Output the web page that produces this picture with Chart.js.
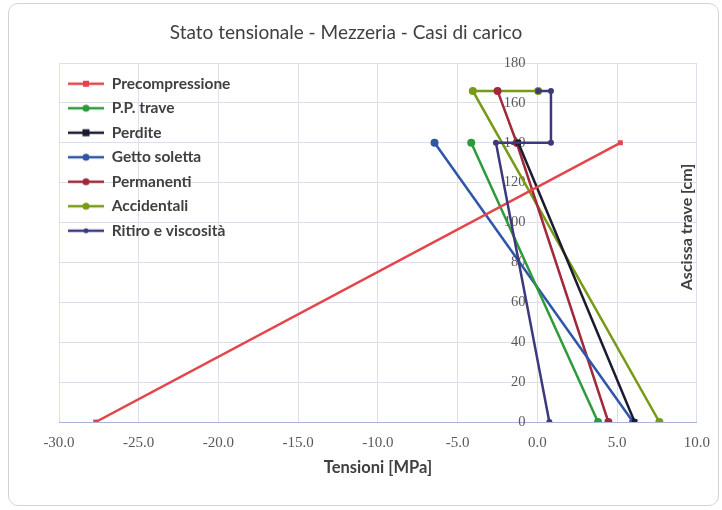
<!DOCTYPE html>
<html>
<head>
<meta charset="utf-8">
<script src="https://cdn.jsdelivr.net/npm/chart.js@4/dist/chart.umd.min.js"></script>
<style>
  html, body { margin: 0; padding: 0; background: #ffffff; }
  #frame { position: absolute; left: 8px; top: 3px; width: 709px; height: 501px; border: 1px solid #d4d4d4; border-radius: 10px; }
  #wrap { position: absolute; left: 0; top: 0; width: 722px; height: 510px; }
</style>
</head>
<body>
<div id="frame"></div>
<div id="wrap"><canvas id="c" width="722" height="510"></canvas></div>
<script>
// ---- Data ----
const seriesNames = ["Precompressione", "P.P. trave", "Perdite", "Getto soletta", "Permanenti", "Accidentali", "Ritiro e viscosità"];

const precompX = [-27.7, 5.2];
const precompY = [0, 140];
const ppTraveX = [3.8, -4.15];
const ppTraveY = [0, 140];
const perditeX = [6.1, -1.2];
const perditeY = [0, 140];
const gettoX = [6.0, -6.45];
const gettoY = [0, 140];
const permanentiX = [4.45, -1.3, -2.5];
const permanentiY = [0, 140, 166];
const accidentaliX = [7.65, -4.05, 0.05];
const accidentaliY = [0, 166, 166];
const ritiroX = [0.75, -2.6, 0.85, 0.85, 0.05];
const ritiroY = [0, 140, 140, 166, 166];

const xTicks = [-30, -25, -20, -15, -10, -5, 0, 5, 10];
const yTicks = [0, 20, 40, 60, 80, 100, 120, 140, 160, 180];

// ---- Styles ----
const colors = ["#e3454a", "#2f9a3c", "#1b1b2f", "#2f55a8", "#a02a3a", "#779a17", "#3c3a7c"];
const markers = ["rect", "circle", "rect", "circle", "circle", "circle", "circle"];
const radii = [3.5, 4, 4, 4, 4, 4, 3];

const xs = [precompX, ppTraveX, perditeX, gettoX, permanentiX, accidentaliX, ritiroX];
const ys = [precompY, ppTraveY, perditeY, gettoY, permanentiY, accidentaliY, ritiroY];

function pts(xa, ya) { return xa.map((v, i) => ({ x: v, y: ya[i] })); }

function legendIcon(color, style, r) {
  const cv = document.createElement('canvas');
  cv.width = 36; cv.height = 12;
  const g = cv.getContext('2d');
  g.strokeStyle = color; g.lineWidth = 2.5;
  g.beginPath(); g.moveTo(0, 6); g.lineTo(36, 6); g.stroke();
  g.fillStyle = color;
  if (style === 'rect') { g.fillRect(18 - r, 6 - r, 2 * r, 2 * r); }
  else { g.beginPath(); g.arc(18, 6, r, 0, Math.PI * 2); g.fill(); }
  return cv;
}
const icons = colors.map((c, i) => legendIcon(c, markers[i], radii[i] - 0.5));

const datasets = seriesNames.map((name, i) => ({
  label: name,
  data: pts(xs[i], ys[i]),
  showLine: true,
  borderColor: colors[i],
  backgroundColor: colors[i],
  borderWidth: 2.5,
  pointStyle: markers[i],
  pointRadius: radii[i],
  pointHoverRadius: radii[i],
  pointBorderWidth: 0,
  order: i === 6 ? -1 : 0
}));

const textPlugin = {
  id: 'texts',
  beforeDraw(chart) {
    const lg = chart.legend;
    if (lg) {
      const h = lg.bottom - lg.top;
      lg.top = chart.chartArea.top + 4;
      lg.bottom = lg.top + h;
    }
  },
  afterDraw(chart) {
    const ctx = chart.ctx;
    ctx.save();
    ctx.fillStyle = '#404040';
    ctx.font = '19px Lato';
    ctx.textAlign = 'center';
    ctx.textBaseline = 'middle';
    ctx.fillText('Stato tensionale - Mezzeria - Casi di carico', 346, 33);
    ctx.translate(687, 227);
    ctx.rotate(-Math.PI / 2);
    ctx.font = 'bold 16px Lato';
    ctx.fillText('Ascissa trave [cm]', 0, 0);
    ctx.restore();
  }
};

new Chart(document.getElementById('c'), {
  type: 'scatter',
  data: { datasets },
  plugins: [textPlugin],
  options: {
    responsive: false,
    animation: false,
    layout: { padding: { left: 59, right: 23, top: 63, bottom: 30 } },
    plugins: {
      title: { display: false },
      tooltip: { enabled: false },
      legend: {
        position: 'chartArea',
        align: 'start',
        labels: {
          usePointStyle: true,
          pointStyleWidth: 36,
          color: '#404040',
          font: { family: 'Lato', size: 15.5, weight: 'bold' },
          padding: 9,
          sort: (a, b) => a.datasetIndex - b.datasetIndex,
          generateLabels(chart) {
            const items = Chart.defaults.plugins.legend.labels.generateLabels(chart);
            items.forEach(it => { it.pointStyle = icons[it.datasetIndex]; });
            return items;
          }
        }
      }
    },
    scales: {
      x: {
        type: 'linear',
        min: -30, max: 10,
        afterBuildTicks(scale) { scale.ticks = xTicks.map(v => ({ value: v })); },
        grid: { color: '#dcdfee', drawTicks: false },
        border: { color: '#a9b3d3', width: 1 },
        ticks: {
          padding: 12,
          color: '#595959',
          font: { family: 'Liberation Serif', size: 15 },
          callback: v => Number(v).toFixed(1)
        },
        title: {
          display: true, text: 'Tensioni [MPa]', color: '#404040',
          font: { family: 'Lato', size: 16.5, weight: 'bold' }, padding: { top: 4, bottom: 2 }
        },
        afterFit(scale) { scale.height = 58; }
      },
      y: {
        type: 'linear',
        min: 0, max: 180,
        position: { x: -0.75 },
        afterBuildTicks(scale) { scale.ticks = yTicks.map(v => ({ value: v })); },
        grid: { color: '#dcdfee', drawTicks: false },
        border: { display: false },
        ticks: {
          color: '#595959',
          font: { family: 'Liberation Serif', size: 14.5 }
        }
      }
    }
  }
});
</script>
</body>
</html>
